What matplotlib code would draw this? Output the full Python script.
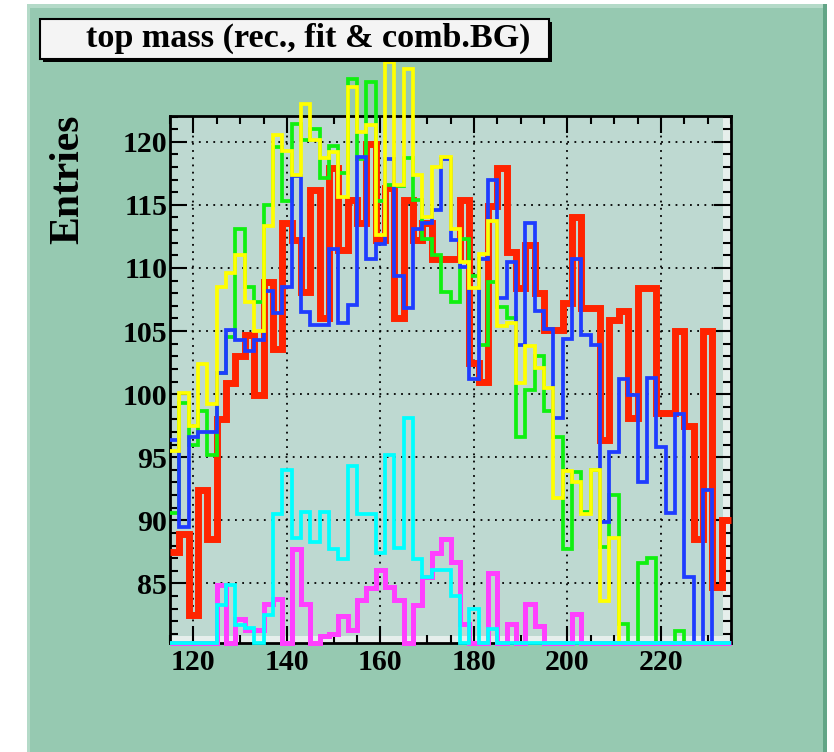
import numpy as np
import matplotlib
matplotlib.use("Agg")
import matplotlib.pyplot as plt
from matplotlib.patches import Rectangle
from matplotlib.ticker import MultipleLocator

# ---- data ----
bin_lo, bin_hi, bin_w = 115, 235, 2
x_ticks = [120, 140, 160, 180, 200, 220]
y_ticks = [85, 90, 95, 100, 105, 110, 115, 120]

red = [87.5, 88.9, 82.5, 92.4, 88.5, 98.0, 100.9, 103.0, 104.7, 99.9,
       108.9, 103.6, 113.6, 112.2, 108.1, 116.2, 106.0, 117.9, 111.4, 115.4,
       113.6, 119.8, 112.2, 116.3, 106.0, 115.4, 112.2, 113.6, 110.7, 110.7,
       110.7, 115.4, 102.5, 101.0, 114.9, 117.9, 111.3, 108.4, 111.8, 108.0,
       105.1, 105.1, 107.2, 114.0, 106.8, 106.8, 96.4, 105.9, 106.6, 98.1,
       108.4, 108.4, 98.5, 98.5, 105.0, 97.5, 88.5, 105.0, 84.7, 90.0]

green = [90.6, 99.3, 96.0, 98.7, 95.2, 101.7, 104.5, 113.1, 108.5, 107.3,
         115.0, 119.6, 115.3, 121.4, 120.1, 121.0, 117.1, 119.7, 117.5, 125.0,
         118.6, 124.7, 115.3, 116.6, 116.5, 118.7, 115.4, 112.3, 111.0, 108.1,
         107.3, 112.3, 109.4, 103.9, 108.9, 106.9, 106.0, 96.6, 100.3, 103.0,
         98.7, 96.6, 87.7, 93.8, 90.7, 94.0, 87.9, 92.0, 81.8, 79.0,
         86.6, 87.0, 79.0, 79.0, 81.2, 79.0, 79.0, 79.0, 79.0, 79.0]

blue = [96.4, 89.5, 96.6, 97.0, 97.0, 101.7, 105.1, 104.3, 103.4, 104.3,
        108.2, 106.4, 108.5, 117.3, 106.5, 105.5, 105.5, 111.5, 105.6, 107.1,
        118.8, 110.7, 111.9, 118.6, 109.4, 106.8, 113.1, 113.6, 114.6, 118.6,
        112.2, 110.1, 101.2, 110.7, 117.0, 107.6, 110.5, 103.9, 113.6, 106.6,
        105.2, 98.1, 104.4, 110.7, 104.7, 103.9, 89.9, 95.4, 101.2, 99.9,
        93.0, 101.3, 95.8, 90.6, 98.4, 85.5, 79.0, 92.4, 79.0, 79.0]

yellow = [95.5, 100.1, 97.5, 102.4, 99.2, 108.5, 109.6, 111.0, 107.3, 105.0,
          113.3, 120.5, 119.3, 117.4, 123.0, 120.1, 118.7, 119.2, 115.6, 124.3,
          120.8, 121.3, 112.6, 126.3, 116.6, 125.8, 117.4, 114.0, 118.0, 118.8,
          113.1, 110.5, 108.4, 111.1, 113.7, 105.4, 105.6, 100.9, 103.8, 102.1,
          100.5, 91.8, 93.9, 93.0, 90.5, 94.0, 83.6, 88.6, 79.0, 79.0,
          79.0, 79.0, 79.0, 79.0, 79.0, 79.0, 79.0, 79.0, 79.0, 79.0]

magenta = [79.0, 79.0, 79.0, 79.0, 79.0, 84.9, 79.0, 82.2, 81.3, 81.3,
           83.4, 83.8, 79.0, 87.7, 83.4, 79.0, 80.8, 81.0, 82.4, 81.3,
           83.7, 84.6, 86.1, 84.7, 83.7, 79.0, 83.3, 85.5, 87.4, 88.5,
           86.7, 81.8, 79.0, 79.0, 85.8, 79.0, 81.8, 79.0, 83.4, 81.6,
           79.0, 79.0, 79.0, 82.6, 79.0, 79.0, 79.0, 79.0, 79.0, 79.0,
           79.0, 79.0, 79.0, 79.0, 79.0, 79.0, 79.0, 79.0, 79.0, 79.0]

cyan = [79.0, 79.0, 79.0, 79.0, 79.0, 83.3, 84.9, 81.7, 81.5, 79.0,
        82.5, 90.5, 94.0, 88.6, 90.7, 88.3, 90.7, 87.7, 86.9, 94.3,
        90.5, 90.5, 87.4, 95.2, 87.8, 98.1, 86.9, 85.5, 86.1, 86.1,
        84.0, 79.0, 83.0, 79.0, 81.4, 79.0, 79.0, 79.0, 79.0, 79.0,
        79.0, 79.0, 79.0, 79.0, 79.0, 79.0, 79.0, 79.0, 79.0, 79.0,
        79.0, 79.0, 79.0, 79.0, 79.0, 79.0, 79.0, 79.0, 79.0, 79.0]

title = "top mass (rec., fit & comb.BG)"
ylabel = "Entries"

# ---- figure ----
W, H = 834, 752
fig = plt.figure(figsize=(W / 100, H / 100), dpi=100, facecolor="white")
serif = ["Liberation Serif", "DejaVu Serif"]

pad_col = "#96c9b1"
frame_col = "#bed9d1"

def px(x0, y0, x1, y1):
    """pixel box -> figure fraction rect"""
    return (x0 / W, 1 - y1 / H, (x1 - x0) / W, (y1 - y0) / H)

def fig_rect(box, **kw):
    r = px(*box)
    fig.patches.append(Rectangle(r[:2], r[2], r[3], transform=fig.transFigure, **kw))

# outer pad with bevel
fig_rect((27, 4, 827, 752), facecolor=pad_col, edgecolor="none", zorder=-10)
fig_rect((27, 4, 30, 752), facecolor="#b4dac8", edgecolor="none", zorder=-9)
fig_rect((27, 4, 827, 8), facecolor="#b4dac8", edgecolor="none", zorder=-9)
fig_rect((823, 4, 827, 752), facecolor="#62a586", edgecolor="none", zorder=-9)

ax = fig.add_axes(px(170, 116, 731, 643))
ax.set_facecolor(frame_col)
ymin, ymax = 80.28, 122.04
ax.set_xlim(bin_lo, bin_hi)
ax.set_ylim(ymin, ymax)

# frame bevel (light strips right and bottom)
ax.add_patch(Rectangle((0.9857, 0), 0.0143, 1, transform=ax.transAxes,
                       facecolor="#e6efec", edgecolor="none", zorder=0.2))
ax.add_patch(Rectangle((0, 0), 1, 0.0133, transform=ax.transAxes,
                       facecolor="#e6efec", edgecolor="none", zorder=0.2))

edges = np.arange(bin_lo, bin_hi + bin_w, bin_w)
series = [(red, "#ff2400", 5.0), (green, "#10f010", 2.7), (blue, "#1f3cff", 2.7),
          (yellow, "#ffff00", 2.7), (magenta, "#ff40ff", 3.6), (cyan, "#00ffff", 2.7)]
for vals, col, lw in series:
    v = np.clip(np.asarray(vals, float), ymin, None)
    ax.stairs(v, edges, baseline=None, color=col, linewidth=lw, clip_on=False,
              zorder=3)

ax.set_xticks(x_ticks)
ax.set_yticks(y_ticks)
ax.xaxis.set_minor_locator(MultipleLocator(5))
ax.yaxis.set_minor_locator(MultipleLocator(1))
ax.grid(True, which="major", color="black", linestyle=(0, (1, 3)), linewidth=1.3)
ax.set_axisbelow(True)
ax.tick_params(which="both", direction="in", top=True, right=True, color="black",
               width=1.5)
ax.tick_params(which="major", length=12)
ax.tick_params(which="minor", length=6)
for lab in ax.get_xticklabels() + ax.get_yticklabels():
    lab.set_family(serif)
    lab.set_fontweight("bold")
    lab.set_fontsize(21.5)
ax.tick_params(axis="y", pad=2)
ax.tick_params(axis="x", pad=4)
for s in ax.spines.values():
    s.set_linewidth(2.0)
    s.set_color("black")

fig.text(68 / W, 1 - 179 / H, ylabel, rotation=90, ha="center", va="center",
         fontsize=30, fontweight="bold", family=serif)

# title box with shadow
fig_rect((43, 22, 552, 62), facecolor="black", edgecolor="none", zorder=5)
fig_rect((40, 19, 549, 59), facecolor="#f4f4f4", edgecolor="black",
         linewidth=1.5, zorder=6)
fig.text(86 / W, 1 - 38 / H, title, ha="left", va="center", fontsize=24.6,
         fontweight="bold", family=serif, zorder=7)

fig.savefig("out.png", dpi=100, facecolor=fig.get_facecolor())
